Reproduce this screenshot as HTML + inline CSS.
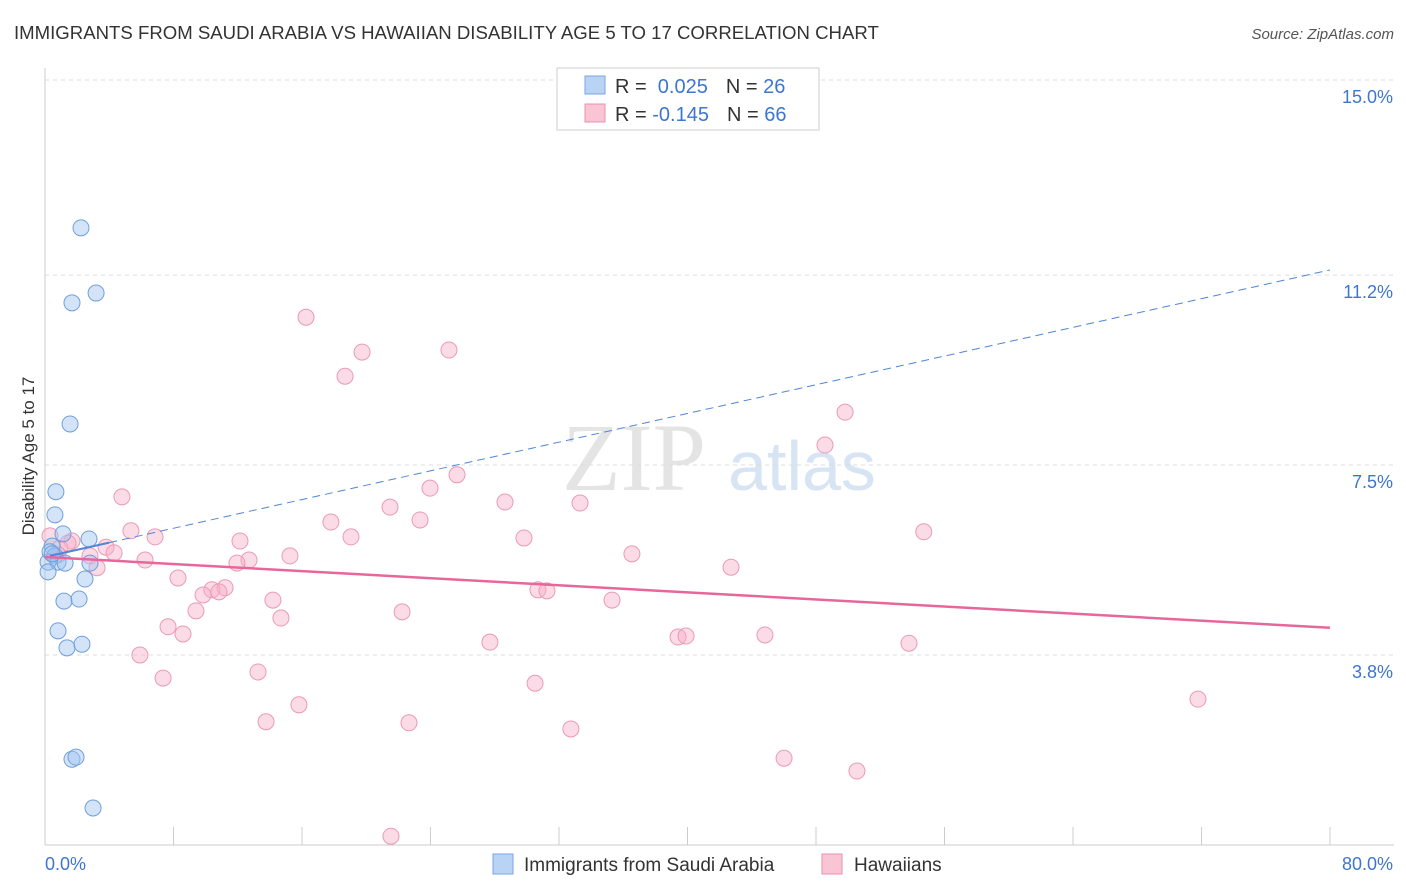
<!DOCTYPE html>
<html><head><meta charset="utf-8">
<style>
body{margin:0;background:#fff;font-family:"Liberation Sans",sans-serif;}
#c{position:relative;width:1406px;height:892px;overflow:hidden}
</style></head>
<body>
<div id="c">
<svg id="s" width="1406" height="892" xmlns="http://www.w3.org/2000/svg">
<text x="14" y="39" font-size="18.6" fill="#333">IMMIGRANTS FROM SAUDI ARABIA VS HAWAIIAN DISABILITY AGE 5 TO 17 CORRELATION CHART</text>
<text x="1394" y="39" font-size="15" fill="#555" text-anchor="end" font-style="italic">Source: ZipAtlas.com</text>
<text x="634" y="490" font-size="96" fill="#e4e4e4" font-family="Liberation Serif,serif" text-anchor="middle">ZIP</text>
<text x="802" y="490" font-size="70" fill="#d6e4f4" text-anchor="middle">atlas</text>
<text transform="translate(34,456) rotate(-90)" font-size="17" fill="#333" text-anchor="middle">Disability Age 5 to 17</text>
<g id="grid"></g><g id="marks"></g><g id="lines"></g>
<g>
<rect x="557" y="68" width="262" height="62" fill="#fff" stroke="#ccc"/>
<rect x="585" y="76" width="20" height="18" fill="#b8d3f4" stroke="#7aa6e0"/>
<rect x="585" y="104" width="20" height="18" fill="#f9c4d4" stroke="#eb90ad"/>
<text x="615" y="93" font-size="20" fill="#333">R = <tspan fill="#3d76d1">&#160;0.025</tspan><tspan dx="18">N = </tspan><tspan fill="#3d76d1">26</tspan></text>
<text x="615" y="121" font-size="20" fill="#333">R = <tspan fill="#3d76d1">-0.145</tspan><tspan dx="18">N = </tspan><tspan fill="#3d76d1">66</tspan></text>
</g>
<g>
<rect x="493" y="854" width="20" height="20" fill="#b8d3f4" stroke="#7aa6e0"/>
<text x="524" y="871" font-size="19" fill="#333">Immigrants from Saudi Arabia</text>
<rect x="822" y="854" width="20" height="20" fill="#f9c4d4" stroke="#eb90ad"/>
<text x="854" y="871" font-size="19" fill="#333">Hawaiians</text>
</g>
</svg>
</div>
<script>
const yTicks=[15.0,11.2,7.5,3.8];
const yTickLabels=["15.0%","11.2%","7.5%","3.8%"];
const xTickLabels=["0.0%","80.0%"];
const blueX=[2.24,1.68,3.18,1.56,0.68,0.62,1.12,2.74,0.44,0.31,0.62,0.19,0.81,1.25,2.80,0.19,2.49,1.18,2.12,0.81,1.37,2.30,1.68,1.93,2.99,0.44];
const blueY=[12.12,10.66,10.85,8.30,6.98,6.53,6.16,6.06,5.92,5.81,5.73,5.61,5.61,5.59,5.59,5.42,5.28,4.85,4.89,4.27,3.94,4.01,1.77,1.81,0.82,5.77];
const pinkX=[16.25,19.74,25.15,18.68,49.81,48.56,25.65,23.97,4.79,28.64,33.31,21.48,23.35,17.80,5.35,54.71,6.85,19.05,29.82,12.14,1.68,0.31,0.93,1.43,0.81,3.80,4.30,2.80,3.24,6.23,15.25,12.70,11.95,36.54,42.71,8.28,11.21,10.39,10.83,9.84,30.69,31.25,14.19,35.30,9.40,22.23,14.69,7.66,8.59,27.70,39.41,39.91,44.82,53.79,5.91,13.26,7.35,30.51,71.78,15.81,13.76,22.66,32.74,46.01,50.55,21.54];
const pinkY=[10.38,9.70,9.74,9.23,8.53,7.89,7.31,7.05,6.88,6.78,6.76,6.68,6.43,6.39,6.22,6.20,6.10,6.10,6.08,6.02,6.02,6.12,5.88,5.98,5.75,5.90,5.79,5.73,5.50,5.65,5.73,5.65,5.59,5.77,5.51,5.30,5.11,5.07,5.03,4.97,5.07,5.05,4.87,4.87,4.66,4.64,4.52,4.35,4.21,4.05,4.15,4.17,4.19,4.03,3.80,3.47,3.35,3.25,2.94,2.83,2.50,2.48,2.36,1.79,1.54,0.27];
const blueTrend=[5.71,11.3];
const pinkTrend=[5.71,4.33];
const NS="http://www.w3.org/2000/svg";
const X=v=>45+v/80*1285;
const Y=v=>80+(15-v)*51.34;
function mk(tag,attrs,parent){const e=document.createElementNS(NS,tag);for(const k in attrs)e.setAttribute(k,attrs[k]);parent.appendChild(e);return e;}
const grid=document.getElementById('grid'),marks=document.getElementById('marks'),lines=document.getElementById('lines');
yTicks.forEach((t,i)=>{
 const l=mk('line',{x1:45,x2:1394,y1:Y(t),y2:Y(t),stroke:'#ddd','stroke-dasharray':'4,4'},grid);
 
 
 const tx=mk('text',{x:1393,y:Y(t)+23,'font-size':18,fill:'#3d76d1','text-anchor':'end'},grid);
 tx.textContent=yTickLabels[i];
 
 
});
const ax=mk('line',{x1:45,x2:1394,y1:845,y2:845,stroke:'#ccc'},grid);


const ay=mk('line',{x1:45,x2:45,y1:68,y2:845,stroke:'#ccc'},grid);


for(let i=0;i<=10;i++){
 const t=mk('line',{x1:X(i*8),x2:X(i*8),y1:827,y2:845,stroke:'#ccc'},grid);
 
 
}
[[0,'start',45],[80,'end',1393]].forEach((d,i)=>{
 const tx=mk('text',{x:d[2],y:870,'font-size':18,fill:'#3d76d1','text-anchor':d[1]},grid);
 tx.textContent=xTickLabels[i];
 
 
});
pinkX.forEach((x,i)=>{
 const c=mk('circle',{cx:X(x),cy:Y(pinkY[i]),r:8,fill:'rgba(246,176,200,0.45)',stroke:'#eb9ab5','stroke-width':1},marks);
 
 
});
blueX.forEach((x,i)=>{
 const c=mk('circle',{cx:X(x),cy:Y(blueY[i]),r:8,fill:'rgba(160,196,240,0.45)',stroke:'#6f9fdc','stroke-width':1},marks);
 
 
});
const by=v=>blueTrend[0]+(blueTrend[1]-blueTrend[0])*v/80;
const bs=mk('line',{x1:X(0.3),y1:Y(by(0.3)),x2:X(4),y2:Y(by(4)),stroke:'#4f86d8','stroke-width':2},lines);


const bd=mk('line',{x1:X(4),y1:Y(by(4)),x2:X(80),y2:Y(by(80)),stroke:'#4f86d8','stroke-width':1,'stroke-dasharray':'8,5'},lines);


const pl=mk('line',{x1:X(0),y1:Y(pinkTrend[0]),x2:X(80),y2:Y(pinkTrend[1]),stroke:'#e8679a','stroke-width':2.5},lines);


</script>
</body></html>
